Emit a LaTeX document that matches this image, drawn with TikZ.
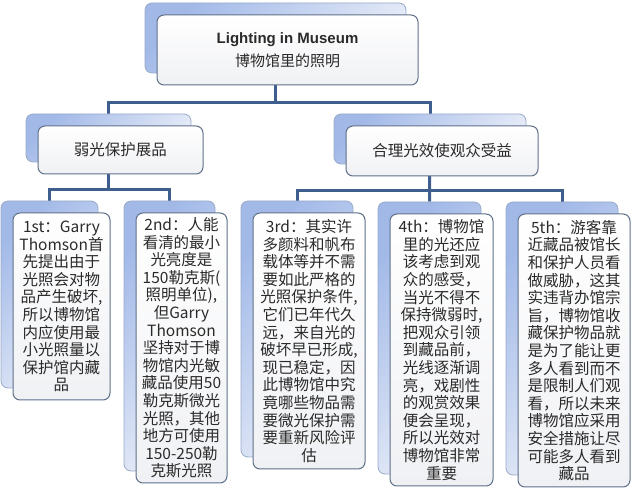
\documentclass[tikz,border=0pt]{standalone}
\usepackage{fontspec}
\setmainfont{Liberation Sans}
\newfontfamily\cjk{Noto Sans CJK SC}
\usetikzlibrary{calc}
\pgfdeclarelayer{bg}
\pgfsetlayers{bg,main}
\definecolor{connc}{HTML}{3E5F8E}
\definecolor{backdark}{HTML}{A2B9E8}
\definecolor{backlight}{HTML}{E8EDF8}
\definecolor{backline}{HTML}{9AABC8}
\definecolor{frontline}{HTML}{5F7089}
\definecolor{frontbot}{HTML}{F0F1F4}
\definecolor{txt}{HTML}{2A2A2A}
\tikzset{
  backbox/.style={draw=backline, line width=0.8pt, rounded corners=7pt,
    left color=backdark, right color=backlight, shading angle=45, inner sep=0pt},
  frontbox/.style={draw=frontline, line width=1pt, rounded corners=7pt,
    top color=white, bottom color=frontbot, inner sep=0pt, align=center, text=txt},
  conn/.style={draw=connc, line width=3pt},
  titlefont/.style={font=\fontsize{15}{23}\selectfont},
  midfont/.style={font=\cjk\fontsize{15.5}{18}\selectfont},
  kidfont/.style={font=\cjk\fontsize{15.5}{17.6}\selectfont},
}
% #1 name, #2 style, #3 x1, #4 y1, #5 x2, #6 y2 (front box), #7 text
\newcommand{\twobox}[7]{%
  \node[backbox, minimum width={#5-#3}, minimum height={#6-#4}] (#1b)
    at ({(#3+#5)/2-12},{(#4+#6)/2-12}) {};
  \node[frontbox, #2, minimum width={#5-#3}, minimum height={#6-#4}] (#1)
    at ({(#3+#5)/2},{(#4+#6)/2}) {#7};
}
\begin{document}
\begin{tikzpicture}[x=1pt,y=-1pt]
\useasboundingbox (0,0) rectangle (633,497);

\twobox{root}{titlefont}{157}{15}{418}{85}{{\bfseries Lighting in Museum}\\{\cjk 博物馆里的照明}}

\twobox{la}{midfont}{38}{126}{203}{174}{弱光保护展品}
\twobox{lb}{midfont}{346}{126}{538}{176}{合理光效使观众受益}

\twobox{ca}{kidfont}{13}{213}{110}{400}{1st：Garry\\Thomson首\\先提出由于\\光照会对物\\品产生破坏,\\所以博物馆\\内应使用最\\小光照量以\\保护馆内藏\\品}
\twobox{cb}{kidfont}{136}{213}{227}{483}{2nd：人能\\看清的最小\\光亮度是\\150勒克斯(\\照明单位),\\但Garry\\Thomson\\坚持对于博\\物馆内光敏\\藏品使用50\\勒克斯微光\\光照，其他\\地方可使用\\150-250勒\\克斯光照}
\twobox{cc}{kidfont}{253}{213}{365}{469}{3rd：其实许\\多颜料和帆布\\载体等并不需\\要如此严格的\\光照保护条件,\\它们已年代久\\远，来自光的\\破坏早已形成,\\现已稳定，因\\此博物馆中究\\竟哪些物品需\\要微光保护需\\要重新风险评\\估}
\twobox{cd}{kidfont}{390}{214}{493}{486}{4th：博物馆\\里的光还应\\该考虑到观\\众的感受，\\当光不得不\\保持微弱时,\\把观众引领\\到藏品前，\\光线逐渐调\\亮，戏剧性\\的观赏效果\\便会呈现，\\所以光效对\\博物馆非常\\重要}
\twobox{ce}{kidfont}{518}{214}{630}{487}{5th：游客靠\\近藏品被馆长\\和保护人员看\\做威胁，这其\\实违背办馆宗\\旨，博物馆收\\藏保护物品就\\是为了能让更\\多人看到而不\\是限制人们观\\看，所以未来\\博物馆应采用\\安全措施让尽\\可能多人看到\\藏品}

\coordinate (busA) at (0,103);
\coordinate (busB) at (0,190);
\coordinate (busC) at (0,191);
\begin{pgfonlayer}{bg}
  \draw[conn] (rootb.center) -- (rootb.center |- busA) -| (lab.north);
  \draw[conn] (rootb.center |- busA) -| (lbb.north);
  \draw[conn] (lab.center) -- (lab.center |- busB) -| (cab.north);
  \draw[conn] (lab.center |- busB) -| (cbb.north);
  \draw[conn] (lbb.center) -- (cdb.north);
  \draw[conn] (lbb.center |- busC) -| (ccb.north);
  \draw[conn] (lbb.center |- busC) -| (ceb.north);
\end{pgfonlayer}
\end{tikzpicture}
\end{document}
